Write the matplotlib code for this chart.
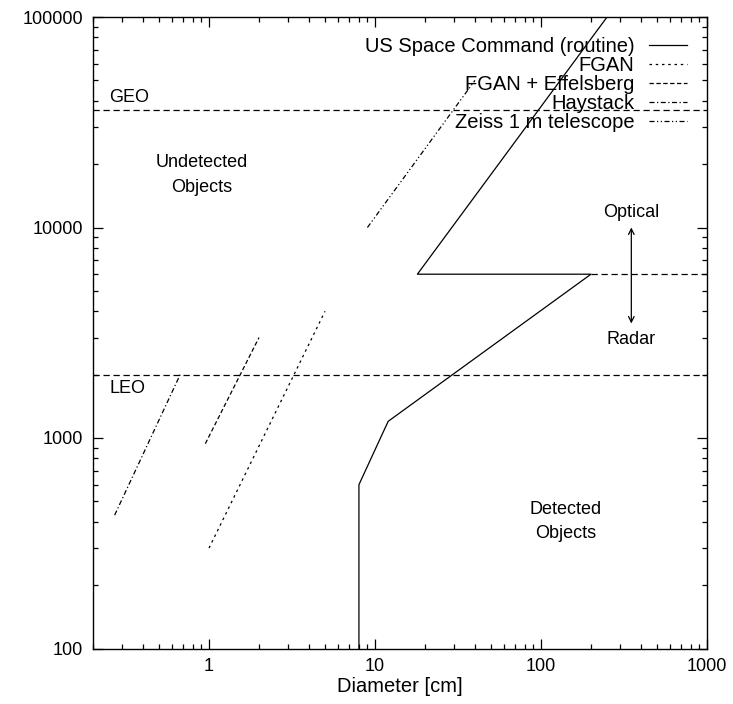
import matplotlib.pyplot as plt
from matplotlib.ticker import FixedLocator, FixedFormatter, LogLocator, NullFormatter

plt.rcParams['font.family'] = ['Liberation Sans', 'DejaVu Sans']

# detection limits: diameter [cm] vs altitude [km]
usspacecom_d = [8, 8, 12, 200, 18, 250]
usspacecom_h = [100, 600, 1200, 6000, 6000, 100000]

fgan_d = [1, 5]
fgan_h = [300, 4000]

fgan_eff_d = [0.95, 2]
fgan_eff_h = [940, 3000]

haystack_d = [0.27, 0.67]
haystack_h = [430, 2000]

zeiss_d = [9, 40]
zeiss_h = [10000, 50000]

geo_alt = 36000
leo_alt = 2000
radar_optical_alt = 6000
radar_optical_d = [200, 1000]

x_ticks = [1, 10, 100, 1000]
y_ticks = [100, 1000, 10000, 100000]

fig = plt.figure(figsize=(7.33, 7.04), dpi=100)
ax = fig.add_axes([93/733, 1 - 648.5/704, 614/733, 631.5/704])

lw = 0.9
ax.plot(usspacecom_d, usspacecom_h, color='black', lw=lw, label='US Space Command (routine)')
ax.plot(fgan_d, fgan_h, color='black', lw=lw, ls=(0, (2, 3)), label='FGAN')
ax.plot(fgan_eff_d, fgan_eff_h, color='black', lw=lw, ls=(0, (3.5, 2)), label='FGAN + Effelsberg')
ax.plot(haystack_d, haystack_h, color='black', lw=lw, ls=(0, (4, 2, 1, 2)), label='Haystack')
ax.plot(zeiss_d, zeiss_h, color='black', lw=lw, ls=(0, (4, 2, 1, 2, 1, 2)), label='Zeiss 1 m telescope')

# orbit regimes and radar / optical boundary
dash = (0, (5, 3))
ax.axhline(geo_alt, color='black', lw=lw, ls=dash)
ax.axhline(leo_alt, color='black', lw=lw, ls=dash)
ax.plot(radar_optical_d, [radar_optical_alt] * 2, color='black', lw=lw, ls=dash)

ax.set_xscale('log')
ax.set_yscale('log')
ax.set_xlim(0.2, 1000)
ax.set_ylim(100, 100000)

ax.text(0.25, geo_alt * 1.05, 'GEO', fontsize=13, ha='left', va='bottom')
ax.text(0.25, leo_alt * 0.94, 'LEO', fontsize=13, ha='left', va='top')
ax.text(0.9, 17800, 'Undetected\nObjects', fontsize=13, ha='center', va='center', linespacing=1.6)
ax.text(140, 400, 'Detected\nObjects', fontsize=13, ha='center', va='center', linespacing=1.55)
ax.text(350, 11800, 'Optical', fontsize=13, ha='center', va='center')
ax.text(350, 2950, 'Radar', fontsize=13, ha='center', va='center')
ax.annotate('', xy=(350, 3500), xytext=(350, 10000),
            arrowprops=dict(arrowstyle='<->', color='black', lw=lw, shrinkA=0, shrinkB=0))

ax.xaxis.set_major_locator(FixedLocator(x_ticks))
ax.xaxis.set_major_formatter(FixedFormatter([str(v) for v in x_ticks]))
ax.yaxis.set_major_locator(FixedLocator(y_ticks))
ax.yaxis.set_major_formatter(FixedFormatter([str(v) for v in y_ticks]))
ax.xaxis.set_minor_locator(LogLocator(base=10, subs=range(2, 10), numticks=20))
ax.yaxis.set_minor_locator(LogLocator(base=10, subs=range(2, 10), numticks=20))
ax.xaxis.set_minor_formatter(NullFormatter())
ax.yaxis.set_minor_formatter(NullFormatter())

ax.tick_params(which='both', direction='in', top=True, right=True, labelsize=13, width=0.9)
ax.tick_params(which='major', length=7, pad=7)
ax.tick_params(which='minor', length=3.5)
for s in ax.spines.values():
    s.set_linewidth(1)

ax.set_xlabel('Diameter [cm]', fontsize=14.5, labelpad=1)

ax.legend(loc='upper right', bbox_to_anchor=(0.967, 0.968), frameon=False, markerfirst=False,
          fontsize=14.5, handlelength=1.85, handletextpad=0.75, labelspacing=0.0, borderpad=0,
          borderaxespad=0)

fig.savefig('out.png', dpi=100)
